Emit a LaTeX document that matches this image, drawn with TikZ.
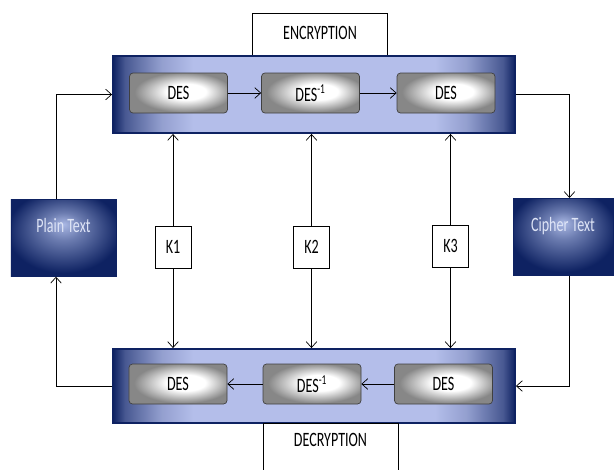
\documentclass[tikz,border=0pt]{standalone}
\usepackage{fontspec}
\setmainfont{Carlito}
\usepackage{graphicx}
\usetikzlibrary{arrows.meta}
\definecolor{navydark}{RGB}{14,34,98}
\definecolor{bandlight}{RGB}{180,190,234}
\definecolor{boxlight}{RGB}{170,184,228}
\definecolor{labellight}{RGB}{222,228,246}
\definecolor{desgray}{RGB}{135,135,135}
\pgfdeclarehorizontalshading{bandshade}{100bp}{color(0bp)=(navydark); color(25bp)=(navydark); color(26.5bp)=(bandlight!35!navydark); color(31bp)=(bandlight!80!navydark); color(35bp)=(bandlight); color(65bp)=(bandlight); color(69bp)=(bandlight!80!navydark); color(73.5bp)=(bandlight!35!navydark); color(75bp)=(navydark); color(100bp)=(navydark)}
\pgfdeclareradialshading{textboxshade}{\pgfpoint{0bp}{9bp}}{color(0bp)=(boxlight); color(9bp)=(boxlight!60!navydark); color(27bp)=(navydark); color(50bp)=(navydark)}
\pgfdeclareradialshading{desshade}{\pgfpoint{5bp}{2bp}}{color(0bp)=(white); color(10bp)=(white); color(25bp)=(desgray); color(50bp)=(desgray)}
\newcommand{\tall}[1]{\scalebox{1}[1.45]{#1}}
\begin{document}
\begin{tikzpicture}[x=0.03cm,y=-0.03cm,line width=0.6pt,
            >={Straight Barb[length=5pt,width=9pt]},
            font=\fontsize{12}{14}\selectfont,
            band/.style={draw=navydark,line width=1.6pt,shading=bandshade,minimum width=12.06cm,minimum height=2.31cm},
            desbox/.style={draw=black!75,line width=0.6pt,rounded corners=3pt,shading=desshade,minimum width=2.94cm,minimum height=1.2cm,inner sep=0pt},
            keybox/.style={draw,fill=white,minimum width=1.08cm,minimum height=1.26cm,inner sep=0pt},
            textbox/.style={draw=navydark,shading=textboxshade,anchor=north,minimum width=3.1cm,inner ysep=0pt,text height=0.99cm,text depth=1.32cm,text=labellight},
            titlebox/.style={draw,fill=white,anchor=north,minimum width=4.05cm,inner ysep=0pt}]
            \fill[white] (0,0) rectangle (614,469);
            \useasboundingbox (0,0) rectangle (614,469);
            \clip (0,0) rectangle (614,469);

            \node[titlebox,text height=0.78cm,text depth=0.54cm] (enctitle) at (320,13) {\tall{ENCRYPTION}};
            \node[band] (encband) at (314,94.5) {};
            \node[desbox] (encA) at (178.5,93) {\tall{DES}};
            \node[desbox] (encB) at (310.5,93) {\tall{DES\textsuperscript{-1}}};
            \node[desbox] (encC) at (446,93) {\tall{DES}};

            \node[band,minimum height=2.22cm] (decband) at (314,386) {};
            \node[desbox] (decA) at (178,384) {\tall{DES}};
            \node[desbox] (decB) at (312,384) {\tall{DES\textsuperscript{-1}}};
            \node[desbox] (decC) at (443.5,384) {\tall{DES}};
            \node[titlebox,text height=0.68cm,text depth=1.1cm] (dectitle) at (330.5,423) {\tall{DECRYPTION}};

            \node[textbox,minimum width=3.15cm] (plain) at (63.5,199) {\tall{Plain Text}};
            \node[textbox,minimum width=3.0cm] (cipher) at (563,198) {\tall{Cipher Text}};

            \node[keybox] (key1) at (173,247) {\tall{K1}};
            \node[keybox] (key2) at (311.5,247) {\tall{K2}};
            \node[keybox] (key3) at (450.5,246) {\tall{K3}};

            \draw[->] (encA.east) -- (encB.west);
            \draw[->] (encB.east) -- (encC.west);
            \draw[->] (decC.west) -- (decB.east);
            \draw[->] (decB.west) -- (decA.east);

            \draw[->] ([xshift=-0.225cm]plain.north) |- (encband.west);
            \draw[->] (encband.east) -| ([xshift=0.195cm]cipher.north);
            \draw[->] ([xshift=0.195cm]cipher.south) |- (decband.east);
            \draw[->] (decband.west) -| ([xshift=-0.225cm]plain.south);

            \foreach \k in {1,2,3} {
                \draw[->] (key\k.north) -- (key\k.north |- encband.south);
                \draw[->] (key\k.south) -- (key\k.south |- decband.north);
            }
        \end{tikzpicture}
\end{document}
